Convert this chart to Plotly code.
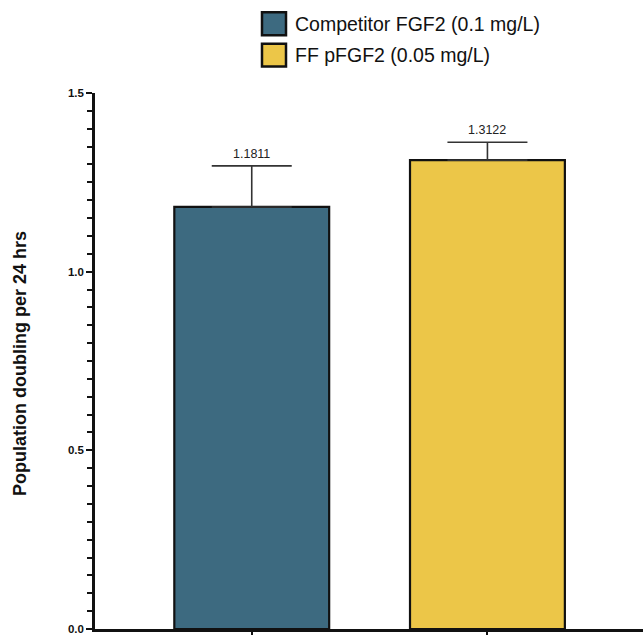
import plotly.graph_objects as go

categories = ["Competitor FGF2 (0.1 mg/L)", "FF pFGF2 (0.05 mg/L)"]
values = [1.1811, 1.3122]
errors_up = [0.115, 0.05]
value_labels = ["1.1811", "1.3122"]
colors = ["#3D6A80", "#ECC648"]
y_ticks = [0.0, 0.5, 1.0, 1.5]
y_tick_labels = ["0.0", "0.5", "1.0", "1.5"]

fig = go.Figure()
xpos = list(range(len(categories)))
fig.add_trace(go.Bar(
    x=xpos, y=values, width=0.657,
    marker=dict(color=colors, line=dict(color="#111111", width=2.2)),
    error_y=dict(type="data", symmetric=False, array=errors_up,
                 arrayminus=[0] * len(values), color="#333333",
                 thickness=1.6, width=40),
    showlegend=False,
))

for i, (v, e, lab) in enumerate(zip(values, errors_up, value_labels)):
    fig.add_annotation(x=xpos[i], y=v + e, text=lab, showarrow=False,
                       yanchor="bottom", yshift=3,
                       font=dict(family="Liberation Sans", size=12.5, color="#222222"))

# Legend drawn as boxes + text
leg_y = [23.5, 55]
for i, name in enumerate(categories):
    fig.add_shape(type="rect", xref="paper", yref="paper",
                  x0=(262 - 95) / 548, x1=(286 - 95) / 548,
                  y0=(631 - (leg_y[i] + 11.5)) / 538, y1=(631 - (leg_y[i] - 11.5)) / 538,
                  fillcolor=colors[i], line=dict(color="#111111", width=2.5))
    fig.add_annotation(xref="paper", yref="paper", x=(293 - 95) / 548,
                       y=(631 - leg_y[i]) / 538, text=name, showarrow=False,
                       xanchor="left", yanchor="middle",
                       font=dict(family="Liberation Sans", size=19.5, color="#111111"))

fig.add_annotation(xref="paper", yref="paper", x=(20 - 95) / 548, y=(631 - 365) / 538,
                   text="<b>Population doubling per 24 hrs</b>", textangle=-90,
                   showarrow=False, xanchor="center", yanchor="middle",
                   font=dict(family="Liberation Sans", size=18, color="#111111"))

fig.update_layout(
    width=643, height=635,
    margin=dict(l=95, r=0, t=93, b=4),
    plot_bgcolor="white", paper_bgcolor="white",
    bargap=0.3,
)
fig.update_xaxes(range=[-0.665, 1.66], showline=True, linecolor="#111111", linewidth=2.5,
                 ticks="outside", ticklen=5, tickwidth=1.5, tickcolor="#111111",
                 tickvals=xpos, showticklabels=False, showgrid=False, zeroline=False)
fig.update_yaxes(range=[0, 1.5], showline=True, linecolor="#111111", linewidth=2.5,
                 ticks="outside", ticklen=6, tickwidth=1.5, tickcolor="#111111",
                 tickvals=y_ticks, ticktext=["<b>%s</b>" % t for t in y_tick_labels],
                 tickfont=dict(family="Liberation Sans", size=11.5, color="#111111"),
                 ticklabeloverflow="allow",
                 minor=dict(dtick=0.05, ticks="outside", ticklen=5, tickwidth=1.5,
                            tickcolor="#111111", showgrid=False),
                 showgrid=False, zeroline=False)

fig.write_html("out.html", post_script="document.body.style.margin='0';",
               config={"displayModeBar": False})
